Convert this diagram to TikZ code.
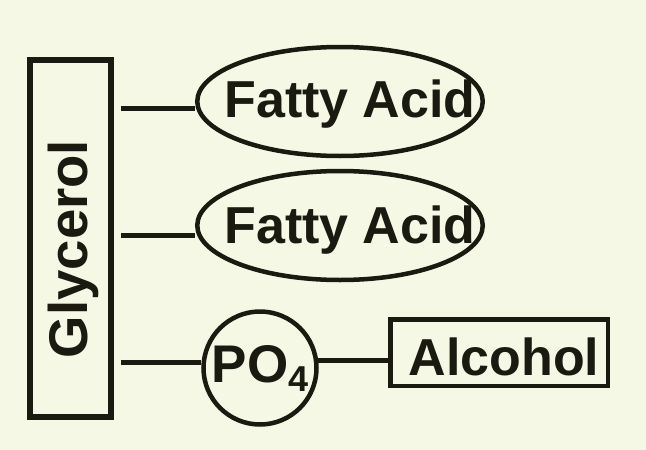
\documentclass[tikz,border=0pt]{standalone}
\usepackage{fontspec}
\setmainfont{Liberation Sans}
\usetikzlibrary{shapes.geometric}
\definecolor{myPaper}{HTML}{F4F8E4}
\definecolor{myInk}{HTML}{1A1A10}

\begin{document}
\begin{tikzpicture}[
        x=1pt, y=-1pt,
        big text/.style={font=\fontsize{52}{60}\selectfont\bfseries, text=myInk, inner sep=0pt},
        glycerol box/.style={draw=myInk, rectangle, line width=6pt, minimum width=81pt, minimum height=357pt, inner sep=0pt},
        acid/.style={draw=myInk, ellipse, line width=4.5pt, minimum width=285.5pt, minimum height=109pt, inner sep=0pt},
        po circle/.style={draw=myInk, circle, line width=4.5pt, minimum size=113pt, inner sep=0pt, big text, font=\fontsize{53}{60}\selectfont\bfseries},
        alcohol box/.style={draw=myInk, rectangle, line width=4.5pt, minimum width=217.5pt, minimum height=66.5pt, inner sep=0pt},
        link/.style={draw=myInk, line width=5pt} % connectors
    ]
    \fill[myPaper] (0,0) rectangle (646,450);
    \useasboundingbox (0,0) rectangle (646,450);

    \node[glycerol box] (glycerol) at (70.5,238.5) {};
    \node[big text, font=\fontsize{54.5}{60}\selectfont\bfseries, rotate=90, anchor=base] (glycerol text) at (87,249) {Glycerol};

    \node[acid] (acid1) at (340,101.5) {};
    \node[big text, anchor=base] (acid1 text) at (350,117) {Fatty Acid};
    \node[acid] (acid2) at (340,225.5) {};
    \node[big text, anchor=base] (acid2 text) at (350,243) {Fatty Acid};

    \node[po circle] (phosphate) at (260,368) {PO\raisebox{-9pt}{\fontsize{36}{36}\selectfont 4}};
    \node[alcohol box] (alcohol) at (499,352.5) {};
    \node[big text, anchor=base] (alcohol text) at (504,375) {Alcohol};

    % free ends of the connectors
    \coordinate (g1) at (121,108);
    \coordinate (g2) at (121,235);
    \coordinate (g3) at (121,362);
    \coordinate (p1) at (318,360);

    \draw[link] (g1) -- (g1 -| acid1.west);
    \draw[link] (g2) -- (g2 -| acid2.west);
    \draw[link] (g3) -- (g3 -| phosphate.west);
    \draw[link] (p1) -- (p1 -| alcohol.west);
\end{tikzpicture}
\end{document}
